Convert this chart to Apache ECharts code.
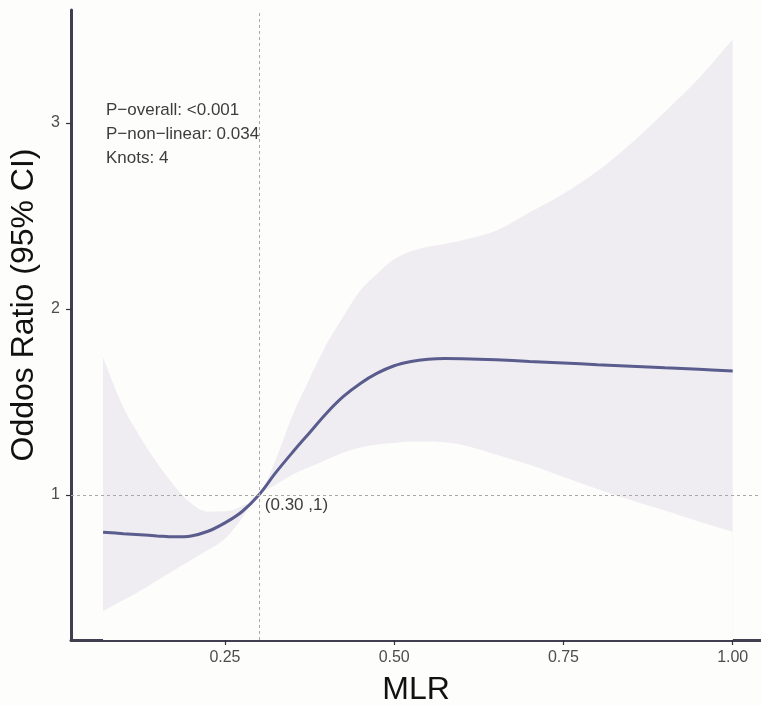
<!DOCTYPE html>
<html>
<head>
<meta charset="utf-8">
<script src="https://cdn.jsdelivr.net/npm/echarts@6/dist/echarts.min.js"></script>
<style>
html,body{margin:0;padding:0;background:#fdfdfb;}
#chart{width:761px;height:705px;}
</style>
</head>
<body>
<div id="chart"></div>
<script>
// MLR values (x)
const mlr = [0.07, 0.10, 0.125, 0.15, 0.175, 0.20, 0.225, 0.25, 0.275, 0.30, 0.325, 0.35, 0.375, 0.40, 0.425, 0.45, 0.475, 0.50, 0.525, 0.55, 0.575, 0.60, 0.65, 0.70, 0.75, 0.80, 0.85, 0.90, 0.95, 1.00];
// Odds ratio estimate
const oddsRatio = [0.80, 0.792, 0.786, 0.780, 0.775, 0.780, 0.805, 0.850, 0.910, 1.0, 1.12, 1.23, 1.335, 1.44, 1.53, 1.60, 1.655, 1.695, 1.718, 1.730, 1.734, 1.733, 1.727, 1.718, 1.71, 1.70, 1.692, 1.684, 1.676, 1.667];
// 95% CI upper and lower bounds
const ciUpper = [1.74, 1.47, 1.31, 1.17, 1.05, 0.955, 0.91, 0.912, 0.94, 1.0, 1.19, 1.43, 1.625, 1.81, 1.96, 2.10, 2.19, 2.268, 2.31, 2.335, 2.35, 2.368, 2.42, 2.52, 2.62, 2.74, 2.89, 3.06, 3.24, 3.45];
const ciLower = [0.375, 0.435, 0.485, 0.54, 0.595, 0.65, 0.704, 0.765, 0.875, 1.0, 1.055, 1.11, 1.15, 1.19, 1.228, 1.255, 1.272, 1.28, 1.287, 1.288, 1.284, 1.27, 1.218, 1.163, 1.097, 1.032, 0.972, 0.917, 0.858, 0.803];
// tick labels
const xTicks = [0.25, 0.50, 0.75, 1.00];
const yTicks = [1, 2, 3];
const refPoint = [0.30, 1];
const annotationLines = ['P\u2212overall: <0.001', 'P\u2212non\u2212linear: 0.034', 'Knots: 4'];

const FONT = '"Liberation Sans", Arial, sans-serif';
const BG = '#fdfdfb';
const SMOOTH = 0.35;
const upperData = mlr.map((x, i) => [x, ciUpper[i]]);
const lowerData = mlr.map((x, i) => [x, ciLower[i]]);
const lineData = mlr.map((x, i) => [x, oddsRatio[i]]);

const chart = echarts.init(document.getElementById('chart'));
chart.setOption({
  backgroundColor: BG,
  animation: false,
  grid: { left: 71, right: 0, top: 10, bottom: 65, outerBoundsMode: 'none', containLabel: false },
  xAxis: {
    type: 'value', min: 0.0226, max: 1.0418,
    name: 'MLR', nameLocation: 'middle', nameGap: 34,
    nameTextStyle: { fontFamily: FONT, fontSize: 32, color: '#111' },
    axisLine: { onZero: false, lineStyle: { color: '#3f3f50', width: 3 } },
    axisTick: { show: true, length: 5, customValues: xTicks, lineStyle: { color: '#333', width: 1.2 } },
    axisLabel: { customValues: xTicks, formatter: v => v.toFixed(2), margin: 10, fontFamily: FONT, fontSize: 16, color: '#4d4d4d' },
    splitLine: { show: false }
  },
  yAxis: {
    type: 'value', min: 0.2204, max: 3.6075,
    name: 'Oddos Ratio (95% CI)', nameLocation: 'middle', nameGap: 31,
    nameTextStyle: { fontFamily: FONT, fontSize: 32, color: '#111', padding: [0, 0, 0, 40] },
    axisLine: { onZero: false, lineStyle: { color: '#3f3f50', width: 3 } },
    axisTick: { show: true, length: 5, customValues: yTicks, lineStyle: { color: '#333', width: 1.2 } },
    axisLabel: { customValues: yTicks, margin: 11, fontFamily: FONT, fontSize: 16, color: '#4d4d4d' },
    splitLine: { show: false }
  },
  series: [
    {
      type: 'line', data: upperData, smooth: SMOOTH, symbol: 'none',
      lineStyle: { opacity: 0 }, areaStyle: { color: '#efedf1', opacity: 1, origin: 'start' }, silent: true, z: 1
    },
    {
      type: 'line', data: lowerData, smooth: SMOOTH, symbol: 'none',
      lineStyle: { opacity: 0 }, areaStyle: { color: BG, opacity: 1, origin: 'start' }, silent: true, z: 1
    },
    {
      type: 'line', data: lineData, smooth: SMOOTH, symbol: 'none', z: 3,
      lineStyle: { color: '#5a5c8e', width: 3 },
      markLine: {
        silent: true, symbol: 'none',
        label: { show: false },
        lineStyle: { color: '#a8a8a8', width: 1, type: [3, 3] },
        data: [{ xAxis: refPoint[0] }, { yAxis: refPoint[1] }]
      },
      markPoint: {
        symbol: 'circle', symbolSize: 0,
        data: [{ coord: refPoint }],
        label: {
          show: true, position: 'right', distance: 6, offset: [0, 10],
          formatter: '(' + refPoint[0].toFixed(2) + ' ,' + refPoint[1] + ')',
          fontFamily: FONT, fontSize: 17, color: '#3d3d3d'
        }
      }
    }
  ],
  graphic: [
    {
      type: 'text', left: 106, top: 98, silent: true,
      style: { text: annotationLines.join('\n'), fontFamily: FONT, fontSize: 17, lineHeight: 24, fill: '#3d3d3d' }
    }
  ]
});
</script>
</body>
</html>
